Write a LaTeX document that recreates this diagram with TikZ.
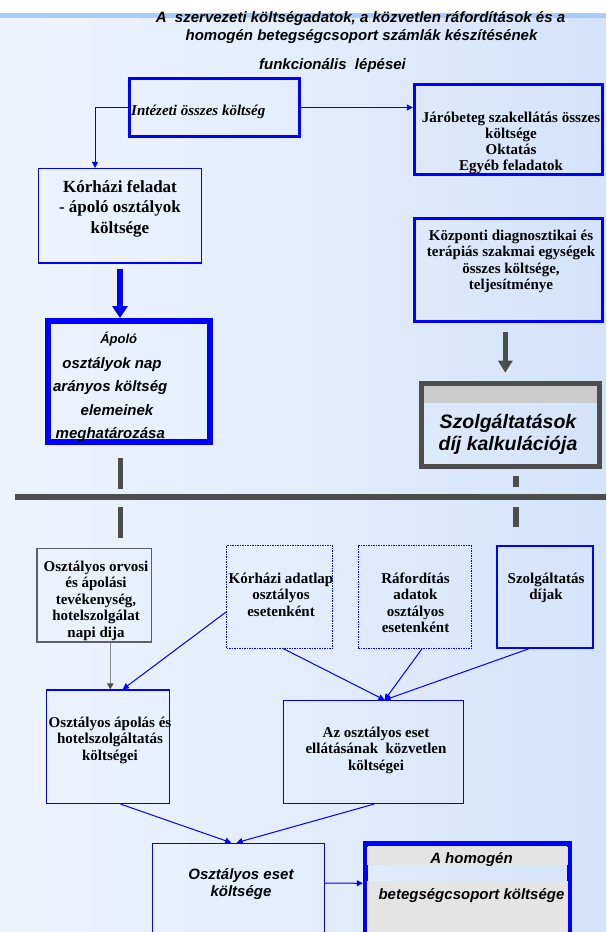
\documentclass[tikz,border=0pt]{standalone}
\usepackage{fontspec}
\setmainfont{Liberation Serif}
\newfontfamily\arialf{Liberation Sans}
\usetikzlibrary{arrows.meta,calc}
\definecolor{bgL}{HTML}{F8FAFF}
\definecolor{bgM}{HTML}{E3EDFC}
\definecolor{bgR}{HTML}{C3DAF8}
\definecolor{barblue}{HTML}{A8CCF6}
\definecolor{dgray}{HTML}{4D4D4D}
\definecolor{mgray}{HTML}{606060}
\definecolor{lngray}{HTML}{8A8A8A}
\definecolor{bandgray}{HTML}{CBCBCB}
\definecolor{lgray}{HTML}{E4E4E4}
\pgfdeclarehorizontalshading{bgshade}{100bp}{color(0bp)=(bgL); color(50bp)=(bgM); color(100bp)=(bgR)}
\newcommand\mlines[6]{\foreach \tx [count=\ti] in {#6}{\node[tl,#5] (#1\ti) at (#2,{-#3-(\ti-1)*#4}) {\tx};}}
\begin{document}
\begin{tikzpicture}[x=1pt,y=1pt,
  tl/.style={inner sep=0pt, anchor=base},
  sb/.style={font=\fontsize{15}{17}\selectfont\bfseries},
  sbk/.style={font=\fontsize{17}{20}\selectfont\bfseries},
  sbi/.style={font=\fontsize{15}{17}\selectfont\bfseries\itshape},
  ab/.style={font=\arialf\fontsize{15}{17}\selectfont\bfseries\itshape},
  absm/.style={font=\arialf\fontsize{13}{15}\selectfont\bfseries\itshape},
  abig/.style={font=\arialf\fontsize{19.5}{22}\selectfont\bfseries\itshape},
  box/.style={draw=blue, inner sep=0pt},
  dotbox/.style={draw=blue, inner sep=0pt, line width=0.9pt, dash pattern=on 1.5pt off 1pt},
  arr/.style={draw=blue, line width=1pt, -{Triangle[length=6pt,width=6pt]}},
  grayarr/.style={draw=lngray, line width=1.2pt, -{Triangle[length=6pt,width=6.5pt,color=dgray]}},
  bigblue/.style={draw=blue, line width=6pt, -{Triangle[length=12pt,width=15pt]}},
  biggray/.style={draw=dgray, line width=5.5pt, -{Triangle[length=12pt,width=14pt]}},
  dline/.style={draw=dgray, line width=5.5pt}
]
\useasboundingbox (0,0) rectangle (606,-932);
\clip (0,0) rectangle (606,-932);
% background
\fill[white] (0,0) rectangle (606,-17);
\shade[shading=bgshade] (0,-17) rectangle (606,-932);
\fill[barblue] (0,-13) rectangle (606,-17.5);

% title
\node[tl,ab] (t1) at (360.5,-22.5) {A\ \ szervezeti költségadatok, a közvetlen ráfordítások és a};
\node[tl,ab] (t2) at (361.5,-40.5) {homogén betegségcsoport számlák készítésének};
\node[tl,ab] (t3) at (332.5,-69) {funkcionális\ \ lépései};

% upper boxes
\node[box, line width=3pt, minimum width=170pt, minimum height=58pt] (intez) at (214,-107.5) {};
\node[tl,sbi,anchor=base west] (intezT) at (131,-115) {Intézeti összes költség};

\node[box, line width=3pt, minimum width=188.2pt, minimum height=89.8pt] (jaro) at (508.4,-129.1) {};
\mlines{jaroT}{511}{122.5}{16}{sb}{{Járóbeteg szakellátás összes},{költsége},{Oktatás},{Egyéb feladatok}}

\node[box, line width=1.3pt, minimum width=162.8pt, minimum height=94.3pt] (kor) at (120,-215.75) {};
\mlines{korT}{120}{192}{20.5}{sbk}{{Kórházi feladat},{- ápoló osztályok},{költsége}}

\node[box, line width=6pt, minimum width=162pt, minimum height=121pt] (apolo) at (129,-381.5) {};
\node[tl,absm] (apT1) at (118.7,-343) {Ápoló};
\node[tl,ab] (apT2) at (112,-368) {osztályok nap};
\node[tl,ab] (apT3) at (110.2,-391) {arányos költség};
\node[tl,ab] (apT4) at (117,-415) {elemeinek};
\node[tl,ab] (apT5) at (110.3,-438) {meghatározása};

\node[box, line width=3pt, minimum width=188pt, minimum height=102.4pt] (kozp) at (508.3,-270) {};
\mlines{kozpT}{511}{240.5}{16.3}{sb}{{Központi diagnosztikai és},{terápiás szakmai egységek},{összes költsége,},{teljesítménye}}

\fill[bandgray] (424.3,-385.7) rectangle (597.3,-403.3);
\node[draw=dgray, inner sep=0pt, line width=5pt, minimum width=178pt, minimum height=83.6pt] (szolg) at (510.8,-425) {};
\mlines{szolgT}{508}{428.3}{22.5}{abig}{{Szolgáltatások},{díj kalkulációja}}

% separator
\draw[dline] (120.5,-458) -- (120.5,-489.3);
\draw[dline] (120.5,-507.3) -- (120.5,-538.3);
\draw[dline] (516,-476) -- (516,-487);
\draw[dline] (516,-507) -- (516,-527);
\draw[draw=dgray, line width=6pt] (15,-497) -- (606,-497);

% lower boxes
\node[draw=mgray, inner sep=0pt, line width=1.5pt, minimum width=114.6pt, minimum height=93.6pt] (oorv) at (94.3,-595.2) {};
\mlines{oorvT}{96}{571}{16.5}{sb}{{Osztályos orvosi},{és ápolási},{tevékenység,},{hotelszolgálat},{napi dija}}

\node[dotbox, minimum width=106.2pt, minimum height=102.4pt] (kadat) at (279.6,-597) {};
\mlines{kadatT}{281}{583.3}{16.5}{sb}{{Kórházi adatlap},{osztályos},{esetenként}}

\node[dotbox, minimum width=113.5pt, minimum height=102.4pt] (rafo) at (414.75,-597) {};
\mlines{rafoT}{415.5}{583.3}{16.5}{sb}{{Ráfordítás},{adatok},{osztályos},{esetenként}}

\node[box, line width=2pt, minimum width=96.9pt, minimum height=101.7pt] (szdij) at (545,-597.1) {};
\mlines{szdijT}{546}{583.3}{16.5}{sb}{{Szolgáltatás},{díjak}}

\node[box, line width=1.5pt, minimum width=123pt, minimum height=113.3pt] (oapol) at (107.8,-746.7) {};
\mlines{oapolT}{110}{727}{16.5}{sb}{{Osztályos ápolás és},{hotelszolgáltatás},{költségei}}

\node[box, line width=1.5pt, minimum width=180.2pt, minimum height=102.6pt] (azoszt) at (373.4,-752) {};
\mlines{azosztT}{376}{737.3}{16.5}{sb}{{Az osztályos eset},{ellátásának\ \ közvetlen},{költségei}}

\node[box, line width=1.5pt, minimum width=171.6pt, minimum height=116.6pt] (oeset) at (238.5,-901.7) {};
\mlines{oesetT}{241}{879.5}{17.3}{ab}{{Osztályos eset},{költsége}}

\node[box, line width=5.5pt, minimum width=204pt, minimum height=116.5pt] (homog) at (467.5,-901.75) {};
\fill[lgray] (367.3,-846.7) rectangle (568.3,-865);
\fill[lgray] (367.3,-881) rectangle (568.3,-960);
\node[tl,ab] (homT1) at (471.5,-863.5) {A homogén};
\node[tl,ab] (homT2) at (471.5,-899.3) {betegségcsoport költsége};

% connectors
\draw[arr] (intez.west) -| ($(kor.north)+(-25,0)$);
\draw[arr] (intez.east) -- (intez.east -| jaro.west);
\draw[bigblue] ($(kor.south)+(0,-5)$) -- (kor.south |- apolo.north);
\coordinate (gs) at ($(kozp.south)+(-3,-9)$);
\coordinate (ge) at ($(szolg.north)+(0,8)$);
\draw[biggray] (gs) -- (gs |- ge);

\coordinate (os) at ($(oorv.south)+(16,0)$);
\draw[grayarr] (os) -- (os |- oapol.north);
\draw[arr] ($(kadat.west)+(0,-15)$) -- ($(oapol.north)+(15,0)$);
\coordinate (azt) at ($(azoszt.north)+(11.2,0)$);
\draw[arr] ($(kadat.south)+(3.7,0)$) -- (azt);
\draw[arr] ($(rafo.south)+(7.4,0)$) -- (azt);
\draw[arr] ($(szdij.south)+(-16.6,0)$) -- (azt);
\draw[arr] ($(oapol.south)+(12.8,0)$) -- ($(oeset.north)+(-7.3,0)$);
\draw[arr] ($(azoszt.south)+(0.8,0)$) -- ($(oeset.north)+(-1.9,0)$);
\draw[arr] ($(oeset.east)+(0,18.5)$) -- ($(homog.west)+(0,18.5)$);
\end{tikzpicture}
\end{document}
